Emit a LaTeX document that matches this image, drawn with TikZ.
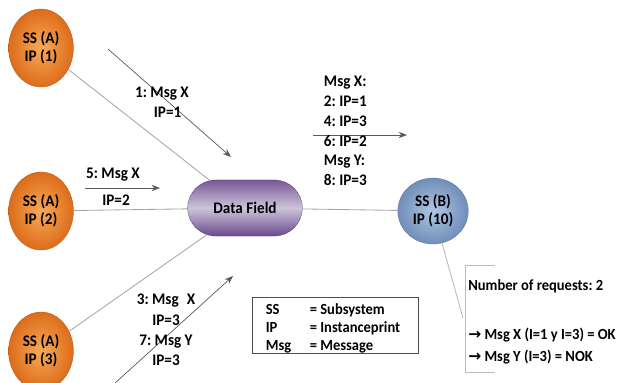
\documentclass[tikz,border=0pt]{standalone}
\usepackage{fontspec}
\setmainfont{Carlito}[FakeStretch=0.94]
\newfontfamily\arrowfont{DejaVu Sans}
\usetikzlibrary{arrows.meta, shapes.geometric, shapes.misc}

\definecolor{orangein}{RGB}{248,170,88}
\definecolor{orangeout}{RGB}{220,108,26}
\definecolor{bluein}{RGB}{176,198,228}
\definecolor{blueout}{RGB}{112,142,184}
\definecolor{purpletop}{RGB}{120,88,150}
\definecolor{purplemid}{RGB}{205,196,218}
\definecolor{purplebot}{RGB}{104,74,140}

\newcommand{\toarrow}{{\arrowfont\bfseries →}}

\begin{document}
\frenchspacing
\begin{tikzpicture}[x=0.025cm, y=-0.025cm, >={Stealth[length=6pt, width=4.5pt]},
    txt/.style={font=\bfseries\fontsize{11.5}{13}\selectfont, align=center},
    ssa/.style={txt, ellipse, minimum width=1.55cm, minimum height=1.95cm,
        inner color=orangein, outer color=orangeout, draw=orangeout!80!black, very thin},
    ssb/.style={txt, ellipse, minimum width=1.5cm, minimum height=1.65cm,
        inner color=bluein, outer color=blueout, draw=blueout!80!black, very thin},
    field/.style={txt, rounded rectangle, minimum width=3.1cm, minimum height=1.4cm,
        top color=purpletop, bottom color=purplebot, middle color=purplemid,
        draw=purplebot!80!black, very thin},
    link/.style={gray!70, line width=0.6pt},
    msg/.style={->, black!65, line width=0.5pt}]

\useasboundingbox (0,0) rectangle (622,382);

% subsystems and the data field
\node[ssa] (ipa) at (41,48) {SS (A)\\IP (1)};
\node[ssa] (ipb) at (41,211) {SS (A)\\IP (2)};
\node[ssa] (ipc) at (41,351) {SS (A)\\IP (3)};
\node[field] (df) at (245,208) {Data Field};
\node[ssb] (ssb) at (433,211) {SS (B)\\IP (10)};

\draw[link] (ipa) -- (df);
\draw[link] (ipb) -- (df);
\draw[link] (ipc) -- (df);
\draw[link] (df) -- (ssb);

% messages
\coordinate (m1s) at (108,49);
\coordinate (m1e) at (231,157);
\draw[msg] (m1s) -- (m1e);
\node[txt, font=\bfseries\fontsize{11.5}{14}\selectfont] (l1) at (162,102) {1: Msg X\\\hspace*{8pt}IP=1};

\coordinate (m5s) at (85,188);
\coordinate (m5e) at (160,188);
\draw[msg] (m5s) -- (m5e);
\node[txt, anchor=south] (l5a) at (113,186) {5: Msg X};
\node[txt, anchor=north] (l5b) at (116,190) {IP=2};

\coordinate (m3s) at (114,384);
\coordinate (m3e) at (233,276);
\draw[msg] (m3s) -- (m3e);
\node[txt, font=\bfseries\fontsize{11.5}{14.5}\selectfont] (l3) at (166,330)
    {3: Msg\enspace X\\IP=3\\7: Msg Y\\IP=3};

\coordinate (outs) at (313,135);
\coordinate (oute) at (407,135);
\draw[msg] (outs) -- (oute);
\node[txt, align=left, anchor=west, font=\bfseries\fontsize{11.5}{14}\selectfont]
    (lout) at (319,131) {Msg X:\\2: IP=1\\4: IP=3\\6: IP=2\\Msg Y:\\8: IP=3};

% legend
\node[draw=black!70, line width=0.6pt, minimum width=4.15cm, minimum height=1.4cm] (key) at (335,325) {};
\node[font=\bfseries\fontsize{11}{12.5}\selectfont] (keytext) at (333,329)
    {\begin{tabular}{@{}p{1.1cm}@{}l@{}}
     SS & = Subsystem\\
     IP & = Instanceprint\\
     Msg & = Message
     \end{tabular}};

% result note
\coordinate (nb) at (463,318);
\draw[link, gray!55] (ssb) -- (nb);
\draw[gray!55, line width=0.6pt] (495,265) -| (465,372) -- (495,372);
\node[txt, align=left, anchor=north west, inner sep=0pt,
    font=\bfseries\fontsize{11}{15.5}\selectfont]
    (note) at (468,279) {Number of requests: 2\\[19.5pt]
    \toarrow{} Msg X (I=1 y I=3) = OK\\
    \toarrow{} Msg Y (I=3) = NOK};
\end{tikzpicture}
\end{document}
